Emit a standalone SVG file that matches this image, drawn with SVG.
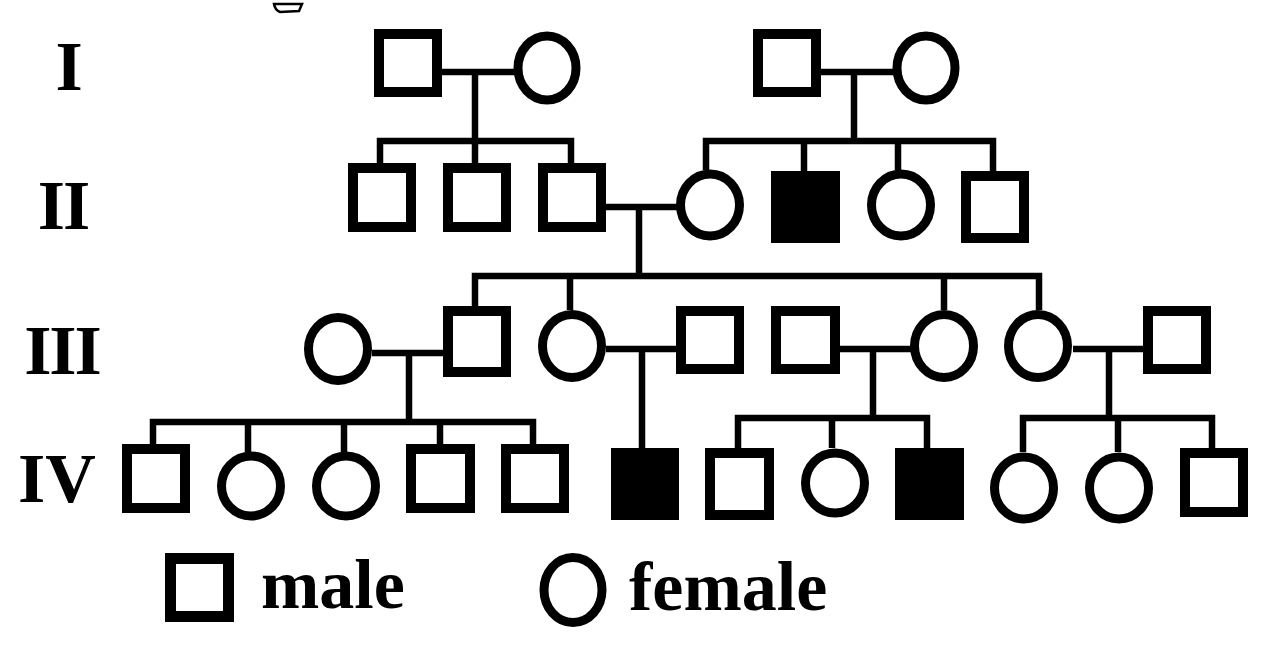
<svg xmlns="http://www.w3.org/2000/svg" width="1275" height="664" viewBox="0 0 1275 664">
<style>
.m{fill:#fff;stroke:#000;stroke-width:10}
.a{fill:#000;stroke:none}
.f{fill:#fff;stroke:#000;stroke-width:9}
.c{fill:none;stroke:#000;stroke-width:6.5;stroke-linejoin:miter}
.g{font-family:"Liberation Serif","Times New Roman",serif;font-weight:bold;font-size:70px;fill:#000}
</style>
<rect width="1275" height="664" fill="#fff"/>
<path d="M274,4 L302,4 L299,11 L280,12 Q275,10 274,4 Z" fill="none" stroke="#000" stroke-width="2.5"/>
<g id="labels">
<text class="g" x="69" y="90" text-anchor="middle">I</text>
<text class="g" x="63" y="229" text-anchor="middle" letter-spacing="-2">II</text>
<text class="g" x="62" y="374" text-anchor="middle" letter-spacing="-2">III</text>
<text class="g" x="57" y="502" text-anchor="middle">IV</text>
</g>
<g id="connectors">
<path class="c" d="M442,72 H514 M475,72 V141"/>
<path class="c" d="M380,163 V141 H571 V163 M475,141 V163"/>
<path class="c" d="M821,72 H893 M854,72 V141"/>
<path class="c" d="M706,170 V141 H993 V171 M804,141 V171 M898,141 V170"/>
<path class="c" d="M606,207 H677 M639,207 V276"/>
<path class="c" d="M475,306 V276 H1039 V310 M570,276 V310 M944,276 V310"/>
<path class="c" d="M372,353 H443 M409,353 V422"/>
<path class="c" d="M153,444 V422 H533 V444 M248,422 V452 M344,422 V452 M440,422 V444"/>
<path class="c" d="M606,349 H676 M642,349 V448"/>
<path class="c" d="M840,349 H911 M873,349 V418"/>
<path class="c" d="M738,448 V418 H927 V448 M832,418 V448"/>
<path class="c" d="M1073,349 H1143 M1109,349 V418"/>
<path class="c" d="M1023,452 V418 H1212 V448 M1118,418 V452"/>
</g>
<g id="I-1"><rect class="m" x="379" y="34" width="58" height="58"/></g>
<g id="I-2"><ellipse class="f" cx="547" cy="68" rx="29" ry="32"/></g>
<g id="I-3"><rect class="m" x="758" y="34" width="58" height="58"/></g>
<g id="I-4"><ellipse class="f" cx="926" cy="68" rx="29" ry="32"/></g>
<g id="II-1"><rect class="m" x="353" y="168" width="58" height="59"/></g>
<g id="II-2"><rect class="m" x="448" y="168" width="58" height="59"/></g>
<g id="II-3"><rect class="m" x="543" y="168" width="58" height="59"/></g>
<g id="II-4"><ellipse class="f" cx="710" cy="205" rx="29.5" ry="31"/></g>
<g id="II-5"><rect class="a" x="771" y="171" width="69" height="72"/></g>
<g id="II-6"><ellipse class="f" cx="901" cy="205" rx="29.5" ry="31"/></g>
<g id="II-7"><rect class="m" x="966" y="176" width="58" height="62"/></g>
<g id="III-1"><ellipse class="f" cx="338" cy="349" rx="29.5" ry="31.5"/></g>
<g id="III-2"><rect class="m" x="448" y="311" width="58" height="61"/></g>
<g id="III-3"><ellipse class="f" cx="572" cy="346" rx="29.5" ry="31.5"/></g>
<g id="III-4"><rect class="m" x="681" y="311" width="58" height="58"/></g>
<g id="III-5"><rect class="m" x="776" y="311" width="59" height="58"/></g>
<g id="III-6"><ellipse class="f" cx="944" cy="346" rx="29.5" ry="31.5"/></g>
<g id="III-7"><ellipse class="f" cx="1038" cy="346" rx="29.5" ry="31.5"/></g>
<g id="III-8"><rect class="m" x="1148" y="311" width="58" height="58"/></g>
<g id="IV-1"><rect class="m" x="127" y="449" width="58" height="59"/></g>
<g id="IV-2"><ellipse class="f" cx="251" cy="486" rx="29.5" ry="30"/></g>
<g id="IV-3"><ellipse class="f" cx="346" cy="486" rx="29.5" ry="30"/></g>
<g id="IV-4"><rect class="m" x="411" y="449" width="59" height="59"/></g>
<g id="IV-5"><rect class="m" x="506" y="449" width="58" height="59"/></g>
<g id="IV-6"><rect class="a" x="611" y="448" width="68" height="72"/></g>
<g id="IV-7"><rect class="m" x="710" y="453" width="59" height="62"/></g>
<g id="IV-8"><ellipse class="f" cx="835" cy="483" rx="29.5" ry="30"/></g>
<g id="IV-9"><rect class="a" x="895" y="448" width="69" height="72"/></g>
<g id="IV-10"><ellipse class="f" cx="1024" cy="488" rx="29.5" ry="31"/></g>
<g id="IV-11"><ellipse class="f" cx="1119" cy="488" rx="29.5" ry="31"/></g>
<g id="IV-12"><rect class="m" x="1185" y="453" width="58" height="59"/></g>
<g id="legend">
<rect x="170.5" y="558.5" width="58" height="58" fill="#fff" stroke="#000" stroke-width="11"/>
<text class="g" x="261" y="608">male</text>
<ellipse class="f" cx="573" cy="590" rx="29" ry="32.5"/>
<text class="g" x="629" y="610">female</text>
</g>
</svg>
